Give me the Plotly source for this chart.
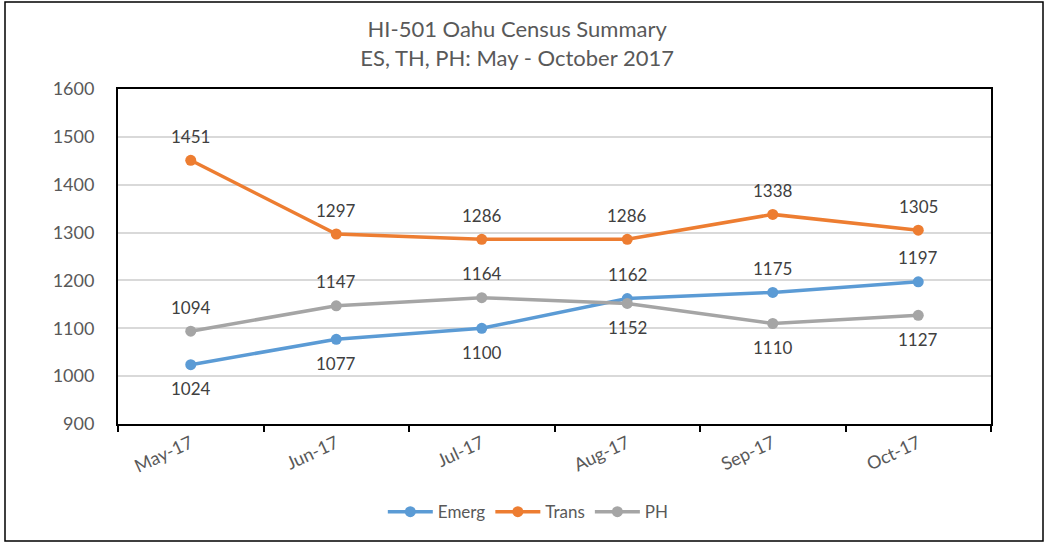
import plotly.graph_objects as go

months = ["May-17", "Jun-17", "Jul-17", "Aug-17", "Sep-17", "Oct-17"]
emerg = [1024, 1077, 1100, 1162, 1175, 1197]
trans = [1451, 1297, 1286, 1286, 1338, 1305]
ph = [1094, 1147, 1164, 1152, 1110, 1127]
emerg_pos = ["below", "below", "below", "above", "above", "above"]
trans_pos = ["above"] * 6
ph_pos = ["above", "above", "above", "below", "below", "below"]

FONT = "Lato, Open Sans, sans-serif"
TXT = "#595959"
series = [("Emerg", emerg, emerg_pos, "#5B9BD5"),
          ("Trans", trans, trans_pos, "#ED7D31"),
          ("PH", ph, ph_pos, "#A5A5A5")]

fig = go.Figure()
annotations = []
for name, vals, pos, col in series:
    fig.add_trace(go.Scatter(x=months, y=vals, name=name, mode="lines+markers",
                             line=dict(color=col, width=3.5),
                             marker=dict(color=col, size=11)))
    for m, v, p in zip(months, vals, pos):
        annotations.append(dict(x=m, y=v, xref="x", yref="y", text=str(v),
                                showarrow=False, yshift=24 if p == "above" else -24,
                                font=dict(family=FONT, size=17, color="#404040")))

fig.update_layout(
    width=1049, height=542,
    margin=dict(l=118, r=58, t=89, b=118),
    paper_bgcolor="white", plot_bgcolor="white",
    font=dict(family=FONT, color=TXT),
    title=dict(text="HI-501 Oahu Census Summary<br>ES, TH, PH: May - October 2017",
               x=0.493, xanchor="center", y=1 - 37 / 542, yanchor="middle",
               font=dict(family=FONT, size=22, color=TXT)),
    legend=dict(orientation="h", x=0.47, xanchor="center", y=-0.263, yanchor="middle",
                font=dict(family=FONT, size=17, color=TXT), itemwidth=45),
    annotations=annotations,
    shapes=[dict(type="rect", xref="paper", yref="paper", x0=-113/873, x1=1043/873 - 118/873,
                 y0=-117/335, y1=1 + 87/335, line=dict(color="#000", width=1.5))],
)
fig.update_xaxes(type="category", range=[-0.5, len(months) - 0.5], tickson="boundaries",
                 ticks="outside", ticklen=6,
                 tickcolor="black", tickwidth=1.5, tickangle=-25, showline=True,
                 linecolor="black", linewidth=2, mirror=True, showgrid=False,
                 tickfont=dict(family=FONT, size=18, color=TXT))
fig.update_yaxes(range=[900, 1600], dtick=100, showgrid=True, gridcolor="#D9D9D9",
                 gridwidth=1.5, showline=True, linecolor="black", linewidth=2, mirror=True,
                 ticks="", zeroline=False, ticklabelstandoff=18,
                 tickfont=dict(family=FONT, size=18, color=TXT))

fig.write_html("out.html", config={"displayModeBar": False},
               post_script="document.body.style.margin='0';")
